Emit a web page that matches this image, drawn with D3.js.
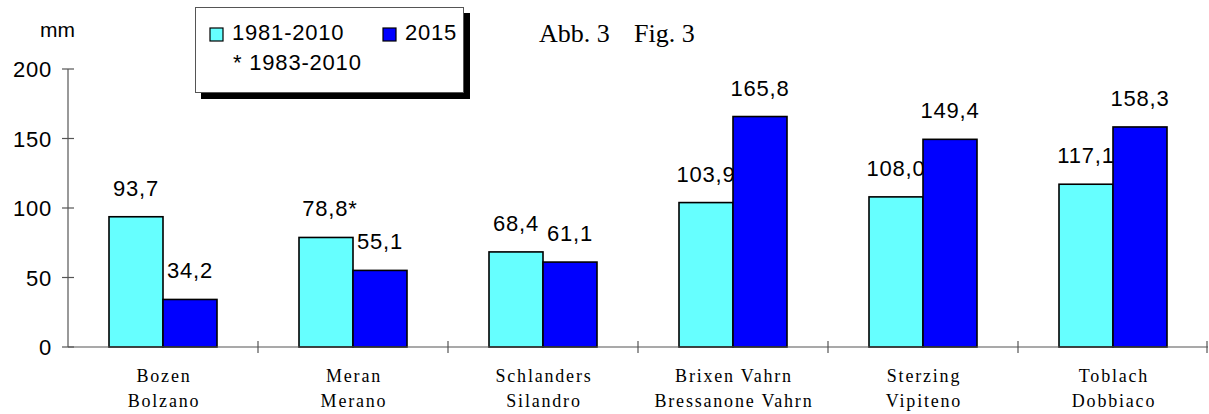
<!DOCTYPE html>
<html>
<head>
<meta charset="utf-8">
<script src="https://cdn.jsdelivr.net/npm/d3@7"></script>
<style>
  body { margin: 0; background: #fff; }
  text { font-family: "Liberation Sans", Arial, sans-serif; }
  .num { letter-spacing: 0.8px; }
</style>
</head>
<body>
<div id="chart"></div>
<script>
var stationsDe = ["Bozen", "Meran", "Schlanders", "Brixen Vahrn", "Sterzing", "Toblach"];
var stationsIt = ["Bolzano", "Merano", "Silandro", "Bressanone Vahrn", "Vipiteno", "Dobbiaco"];
var normal = [93.7, 78.8, 68.4, 103.9, 108.0, 117.1];   // 1981-2010
var year2015 = [34.2, 55.1, 61.1, 165.8, 149.4, 158.3];
var starred = [false, true, false, false, false, false]; // * 1983-2010
var yTicks = [0, 50, 100, 150, 200];
var seriesNames = ["1981-2010", "2015"];
var colors = ["#66ffff", "#0000ff"];

var width = 1209, height = 414;
var x0 = 68, x1 = 1208, yTop = 69, yBottom = 347;
var serif = "'Liberation Serif', 'Times New Roman', serif";

var svg = d3.select("#chart").append("svg")
  .attr("width", width)
  .attr("height", height);

var x = d3.scaleBand()
  .domain(stationsDe)
  .range([x0, x1]);

var xs = d3.scaleBand()
  .domain(seriesNames)
  .range([0, 108]);

var y = d3.scaleLinear()
  .domain([0, 200])
  .range([yBottom, yTop]);

var fmt = function(v) { return d3.format(".1f")(v).replace(".", ","); };

// y axis
svg.append("line")
  .attr("x1", x0).attr("x2", x0)
  .attr("y1", y(200)).attr("y2", y(0))
  .attr("stroke", "#555").attr("stroke-width", 1.2);

yTicks.forEach(function(t) {
  svg.append("line")
    .attr("x1", x0 - 6).attr("x2", x0 + 6)
    .attr("y1", y(t)).attr("y2", y(t))
    .attr("stroke", "#555").attr("stroke-width", 1.2);
  svg.append("text")
    .attr("class", "num")
    .attr("x", 52).attr("y", y(t) + 8)
    .attr("text-anchor", "end")
    .style("font-size", "22px")
    .text(t);
});

svg.append("text")
  .attr("x", 40).attr("y", 37)
  .style("font-size", "21px")
  .text("mm");

// bars
var groups = svg.selectAll("g.station")
  .data(stationsDe)
  .enter().append("g")
  .attr("class", "station")
  .attr("transform", function(d) { return "translate(" + (x(d) + (x.bandwidth() - 108) / 2) + ",0)"; });

groups.each(function(d, i) {
  var g = d3.select(this);
  var vals = [normal[i], year2015[i]];
  vals.forEach(function(v, j) {
    g.append("rect")
      .attr("x", xs(seriesNames[j]))
      .attr("y", y(v))
      .attr("width", xs.bandwidth())
      .attr("height", y(0) - y(v))
      .attr("fill", colors[j])
      .attr("stroke", "#000")
      .attr("stroke-width", 1.6);
    g.append("text")
      .attr("class", "num")
      .attr("x", xs(seriesNames[j]) + xs.bandwidth() / 2 + (j === 0 && starred[i] ? 4 : 0))
      .attr("y", y(v) - 21)
      .attr("text-anchor", "middle")
      .style("font-size", "22px")
      .text(fmt(v) + (j === 0 && starred[i] ? "*" : ""));
  });
});

// x axis
svg.append("line")
  .attr("x1", x0).attr("x2", x1)
  .attr("y1", y(0)).attr("y2", y(0))
  .attr("stroke", "#555").attr("stroke-width", 1.2);

stationsDe.forEach(function(d, i) {
  if (i === 0) return;
  svg.append("line")
    .attr("x1", x(d)).attr("x2", x(d))
    .attr("y1", y(0) - 6).attr("y2", y(0) + 6)
    .attr("stroke", "#555").attr("stroke-width", 1.2);
});
svg.append("line")
  .attr("x1", x1 - 1).attr("x2", x1 - 1)
  .attr("y1", y(0) - 6).attr("y2", y(0) + 6)
  .attr("stroke", "#555").attr("stroke-width", 1.2);

stationsDe.forEach(function(d, i) {
  var cx = x(d) + x.bandwidth() / 2;
  [d, stationsIt[i]].forEach(function(s, k) {
    svg.append("text")
      .attr("x", cx + 1).attr("y", 382 + k * 25)
      .attr("text-anchor", "middle")
      .style("font-family", serif)
      .style("font-size", "18px")
      .style("letter-spacing", "1.8px")
      .text(s);
  });
});

// legend
var lg = svg.append("g");
lg.append("rect")
  .attr("x", 201).attr("y", 13).attr("width", 269).attr("height", 86)
  .attr("fill", "#000");
lg.append("rect")
  .attr("x", 195.5).attr("y", 7.5).attr("width", 268).attr("height", 85)
  .attr("fill", "#fff").attr("stroke", "#555").attr("stroke-width", 1);

var legendX = [210, 383];
seriesNames.forEach(function(s, j) {
  lg.append("rect")
    .attr("x", legendX[j]).attr("y", 28)
    .attr("width", 13).attr("height", 13)
    .attr("fill", colors[j]).attr("stroke", "#000").attr("stroke-width", 1.2);
  lg.append("text")
    .attr("class", "num")
    .attr("x", legendX[j] + 22).attr("y", 40)
    .style("font-size", "22px")
    .text(s);
});
lg.append("text")
  .attr("class", "num")
  .attr("x", 233).attr("y", 70)
  .style("font-size", "22px")
  .text("* 1983-2010");

// figure label
svg.append("text")
  .attr("x", 539).attr("y", 42)
  .style("font-family", serif)
  .style("font-size", "26px")
  .text("Abb. 3");
svg.append("text")
  .attr("x", 634).attr("y", 42)
  .style("font-family", serif)
  .style("font-size", "26px")
  .text("Fig. 3");
</script>
</body>
</html>
